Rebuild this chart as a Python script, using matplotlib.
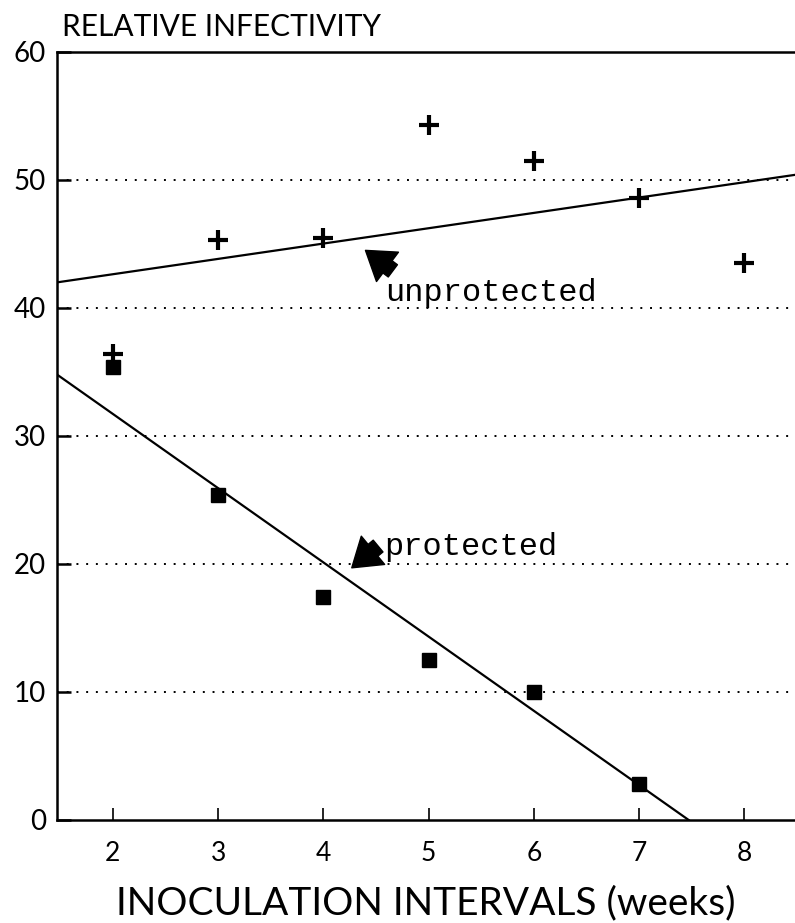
import numpy as np
import matplotlib.pyplot as plt

# data
weeks = [2, 3, 4, 5, 6, 7, 8]
unprotected = [36.4, 45.3, 45.5, 54.3, 51.5, 48.6, 43.5]

weeks_prot = [2, 3, 4, 5, 6, 7]
protected = [35.4, 25.4, 17.4, 12.5, 10.0, 2.8]

# fitted lines as drawn in the figure (end points)
unprot_fit_x = [1.47, 8.48]
unprot_fit_y = [42.0, 50.4]
prot_fit_x = [1.47, 7.47]
prot_fit_y = [34.8, 0.0]

x_ticks = [2, 3, 4, 5, 6, 7, 8]
y_ticks = [0, 10, 20, 30, 40, 50, 60]
y_labels = ['0', '10', '20', '30', '40', '50', '60']

plt.rcParams['font.family'] = ['Lato', 'DejaVu Sans']

fig = plt.figure(figsize=(7.95, 9.23), dpi=100)
ax = fig.add_axes([0.0717, 0.1116, 0.9283, 0.8321])

# dotted reference lines
for yv in [10, 20, 30, 40, 50]:
    ax.axhline(yv, color='black', linestyle=(0, (1, 4)), linewidth=1.4, zorder=1)

ax.plot(unprot_fit_x, unprot_fit_y, color='black', linewidth=1.6, zorder=2)
ax.plot(prot_fit_x, prot_fit_y, color='black', linewidth=1.6, zorder=2)

ax.plot(weeks, unprotected, linestyle='none', marker='+', color='black',
        markersize=15, markeredgewidth=3, zorder=3)
ax.plot(weeks_prot, protected, linestyle='none', marker='s', color='black',
        markersize=10, zorder=3)

# labels with arrows
arrow = dict(arrowstyle='simple,head_length=0.9,head_width=1.2,tail_width=0.5',
             color='black', mutation_scale=22, shrinkA=0, shrinkB=0)
ax.annotate('', xy=(4.40, 44.5), xytext=(4.66, 42.9), arrowprops=arrow)
ax.text(4.59, 41.2, 'unprotected', family='Liberation Mono', fontsize=23,
        va='center', ha='left')
ax.annotate('', xy=(4.27, 19.7), xytext=(4.52, 21.4), arrowprops=arrow)
ax.text(4.58, 21.3, 'protected', family='Liberation Mono', fontsize=23,
        va='center', ha='left')

ax.set_xlim(1.47, 8.48)
ax.set_ylim(0, 60)
ax.set_xticks(x_ticks)
ax.set_yticks(y_ticks)
ax.set_yticklabels(y_labels)

ax.spines['right'].set_visible(False)
for s in ['left', 'bottom', 'top']:
    ax.spines[s].set_linewidth(1.8)

ax.tick_params(axis='x', direction='in', length=9, width=1.2, labelsize=19, pad=15)
ax.tick_params(axis='y', direction='in', length=10, width=1.8, labelsize=20, pad=8)

fig.text(0.078, 0.971, 'RELATIVE INFECTIVITY', fontsize=21.5,
         va='center', ha='left')
ax.set_xlabel('INOCULATION INTERVALS (weeks)', fontsize=28, labelpad=14)

plt.savefig('out.png', dpi=100)
